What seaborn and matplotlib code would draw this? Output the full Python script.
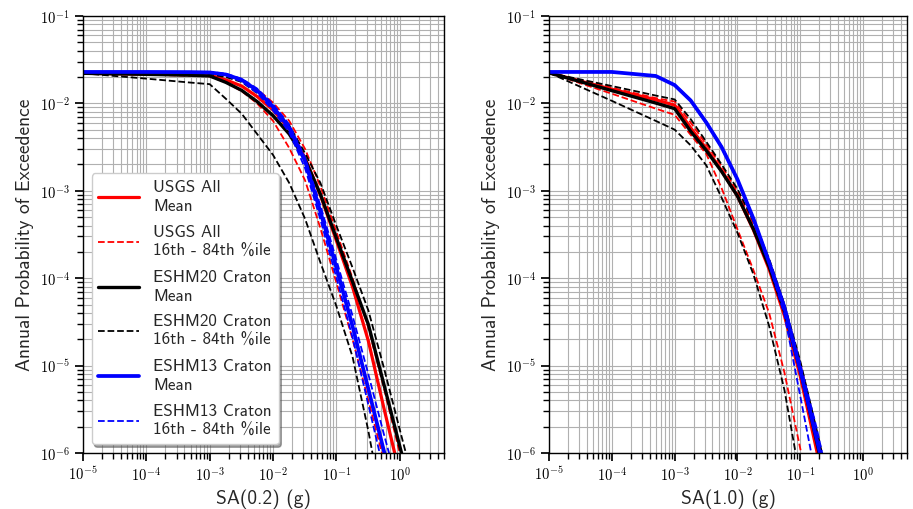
import matplotlib
matplotlib.use("Agg")
import matplotlib.pyplot as plt
import matplotlib.ticker as mticker
import numpy as np
import pandas as pd
import seaborn as sns

# Spectral acceleration levels (g)
sa = [1e-5, 1e-4, 5e-4, 1e-3, 1.8e-3, 3.2e-3, 5.6e-3, 1e-2, 1.8e-2, 3.2e-2,
      5.6e-2, 0.1, 0.18, 0.32, 0.56, 1.0, 1.8]

# ---- SA(0.2) annual probabilities of exceedence ----
usgs_mean_02 = [2.21e-2, 2.16e-2, 2.13e-2, 2.11e-2, 1.86e-2, 1.58e-2, 1.20e-2, 8.41e-3, 5.13e-3,
                2.37e-3, 8.91e-4, 2.69e-4, 7.94e-5, 1.91e-5, 3.31e-6, 5.75e-7, 1.0e-7]
usgs_p16_02 = [2.21e-2, 2.13e-2, 2.07e-2, 2.04e-2, 1.74e-2, 1.38e-2, 1.0e-2, 6.31e-3, 3.09e-3,
               1.32e-3, 3.72e-4, 8.91e-5, 2.0e-5, 3.98e-6, 8.32e-7, 1.58e-7, 3.16e-8]
usgs_p84_02 = [2.21e-2, 2.21e-2, 2.19e-2, 2.16e-2, 2.04e-2, 1.82e-2, 1.45e-2, 1.02e-2, 6.31e-3,
               3.02e-3, 1.12e-3, 3.39e-4, 1.0e-4, 2.69e-5, 5.62e-6, 1.0e-6, 1.78e-7]
eshm20_mean_02 = [2.21e-2, 2.15e-2, 2.10e-2, 2.06e-2, 1.74e-2, 1.41e-2, 1.05e-2, 7.24e-3, 4.47e-3,
                  2.29e-3, 9.12e-4, 2.88e-4, 9.12e-5, 2.95e-5, 6.17e-6, 1.20e-6, 2.34e-7]
eshm20_p16_02 = [2.21e-2, 1.92e-2, 1.73e-2, 1.66e-2, 1.13e-2, 7.62e-3, 4.47e-3, 2.57e-3, 1.23e-3,
                 4.79e-4, 1.51e-4, 4.79e-5, 1.26e-5, 1.78e-6, 2.0e-7, 2.0e-8, 2.0e-9]
eshm20_p84_02 = [2.21e-2, 2.21e-2, 2.19e-2, 2.16e-2, 2.0e-2, 1.76e-2, 1.32e-2, 9.12e-3, 5.62e-3,
                 2.69e-3, 1.23e-3, 3.98e-4, 1.32e-4, 4.27e-5, 9.55e-6, 1.86e-6, 3.63e-7]
eshm13_mean_02 = [2.29e-2, 2.29e-2, 2.28e-2, 2.26e-2, 2.14e-2, 1.86e-2, 1.41e-2, 9.12e-3, 5.25e-3,
                  2.19e-3, 5.75e-4, 1.32e-4, 2.82e-5, 5.37e-6, 1.07e-6, 2.14e-7, 3.98e-8]
eshm13_p16_02 = [2.29e-2, 2.29e-2, 2.26e-2, 2.24e-2, 2.09e-2, 1.78e-2, 1.32e-2, 8.32e-3, 4.68e-3,
                 1.82e-3, 4.68e-4, 1.02e-4, 2.09e-5, 3.55e-6, 6.31e-7, 1.0e-7, 1.58e-8]
eshm13_p84_02 = [2.29e-2, 2.29e-2, 2.29e-2, 2.29e-2, 2.19e-2, 1.91e-2, 1.48e-2, 9.77e-3, 5.75e-3,
                 2.40e-3, 6.76e-4, 1.62e-4, 3.72e-5, 7.94e-6, 1.66e-6, 3.55e-7, 7.94e-8]

# ---- SA(1.0) annual probabilities of exceedence ----
usgs_mean_10 = [2.24e-2, 1.45e-2, 1.10e-2, 9.55e-3, 5.25e-3, 3.02e-3, 1.70e-3, 8.71e-4, 3.55e-4,
                1.26e-4, 3.72e-5, 7.59e-6, 1.12e-6, 1.58e-7, 2.0e-8, 2.5e-9, 3.2e-10]
usgs_p16_10 = [2.24e-2, 1.29e-2, 8.71e-3, 7.41e-3, 4.37e-3, 2.63e-3, 1.07e-3, 3.63e-4, 1.23e-4,
               3.98e-5, 8.32e-6, 1.12e-6, 1.26e-7, 1.26e-8, 1.26e-9, 1.26e-10, 1.26e-11]
usgs_p84_10 = [2.24e-2, 1.51e-2, 1.15e-2, 1.05e-2, 6.03e-3, 3.39e-3, 1.91e-3, 9.77e-4, 4.17e-4,
               1.55e-4, 4.79e-5, 1.07e-5, 1.82e-6, 2.82e-7, 4.0e-8, 6.3e-9, 1.0e-9]
eshm20_mean_10 = [2.24e-2, 1.40e-2, 1.01e-2, 8.71e-3, 4.79e-3, 2.88e-3, 1.66e-3, 8.71e-4, 3.63e-4,
                  1.35e-4, 4.17e-5, 8.91e-6, 1.41e-6, 2.0e-7, 2.5e-8, 3.2e-9, 4.0e-10]
eshm20_p16_10 = [2.24e-2, 1.07e-2, 6.31e-3, 5.01e-3, 3.31e-3, 1.95e-3, 8.32e-4, 3.31e-4, 1.10e-4,
                 2.82e-5, 5.25e-6, 5.01e-7, 5.0e-8, 5.0e-9, 5.0e-10, 5.0e-11, 5.0e-12]
eshm20_p84_10 = [2.24e-2, 1.58e-2, 1.23e-2, 1.11e-2, 6.61e-3, 3.63e-3, 2.0e-3, 1.05e-3, 4.47e-4,
                 1.66e-4, 5.01e-5, 1.12e-5, 1.91e-6, 3.16e-7, 5.0e-8, 7.9e-9, 1.26e-9]
eshm13_mean_10 = [2.29e-2, 2.29e-2, 2.06e-2, 1.62e-2, 1.08e-2, 6.03e-3, 3.16e-3, 1.35e-3, 4.79e-4,
                  1.51e-4, 4.57e-5, 8.91e-6, 1.51e-6, 2.51e-7, 4.0e-8, 6.3e-9, 1.0e-9]
eshm13_p16_10 = [2.29e-2, 2.29e-2, 2.06e-2, 1.62e-2, 1.07e-2, 5.89e-3, 3.09e-3, 1.32e-3, 4.57e-4,
                 1.45e-4, 3.80e-5, 4.47e-6, 5.01e-7, 6.0e-8, 7.0e-9, 8.0e-10, 9.0e-11]
eshm13_p84_10 = [2.29e-2, 2.29e-2, 2.07e-2, 1.64e-2, 1.10e-2, 6.17e-3, 3.24e-3, 1.38e-3, 4.90e-4,
                 1.58e-4, 5.01e-5, 1.05e-5, 2.0e-6, 3.16e-7, 5.0e-8, 8.0e-9, 1.2e-9]

models = ["USGS All", "ESHM20 Craton", "ESHM13 Craton"]
model_colors = {"USGS All": "#ff0000", "ESHM20 Craton": "#000000", "ESHM13 Craton": "#0000ff"}
mean_widths = {"USGS All": 2.3, "ESHM20 Craton": 2.4, "ESHM13 Craton": 2.7}

panels = {
    "SA(0.2) (g)": {
        "USGS All": (usgs_mean_02, usgs_p16_02, usgs_p84_02),
        "ESHM20 Craton": (eshm20_mean_02, eshm20_p16_02, eshm20_p84_02),
        "ESHM13 Craton": (eshm13_mean_02, eshm13_p16_02, eshm13_p84_02),
    },
    "SA(1.0) (g)": {
        "USGS All": (usgs_mean_10, usgs_p16_10, usgs_p84_10),
        "ESHM20 Craton": (eshm20_mean_10, eshm20_p16_10, eshm20_p84_10),
        "ESHM13 Craton": (eshm13_mean_10, eshm13_p16_10, eshm13_p84_10),
    },
}

rows = []
for panel, data in panels.items():
    for model, (mean, p16, p84) in data.items():
        for stat, vals in (("mean", mean), ("p16", p16), ("p84", p84)):
            for x, y in zip(sa, vals):
                rows.append({"panel": panel, "model": model, "stat": stat, "sa": x, "poe": y})
df = pd.DataFrame(rows)

sns.set_theme(style="ticks")
plt.rcParams.update({
    "font.family": ["cmss10", "DejaVu Sans"],
    "mathtext.fontset": "cm",
    "axes.edgecolor": "black",
    "axes.linewidth": 1.0,
    "xtick.color": "black",
    "ytick.color": "black",
    "xtick.labelsize": 10.5,
    "ytick.labelsize": 10.5,
})


def pow10(v, pos):
    if v <= 0:
        return ""
    e = np.log10(v)
    if abs(e - round(e)) > 1e-6:
        return ""
    return r"$10^{%d}$" % int(round(e))


fig = plt.figure(figsize=(9.13, 5.09), dpi=100)
W, H = 913, 509
ax1 = fig.add_axes([83 / W, 56 / H, 361 / W, 437 / H])
ax2 = fig.add_axes([549 / W, 56 / H, 358 / W, 437 / H])

for ax, panel in zip((ax1, ax2), panels.keys()):
    ax.set_xscale("log")
    ax.set_yscale("log")
    ax.grid(True, which="both", color="#b0b0b0", linewidth=0.8)
    ax.set_axisbelow(True)
    sub = df[df["panel"] == panel]
    for model in models:
        c = model_colors[model]
        for stat in ("mean", "p16", "p84"):
            d = sub[(sub["model"] == model) & (sub["stat"] == stat)]
            if stat == "mean":
                lab = f"{model}\nMean"
                ls, lw = "-", mean_widths[model]
            else:
                lab = f"{model}\n16th - 84th %ile" if stat == "p16" else "_nolegend_"
                ls, lw = "--", 1.3
            if ax is ax2:
                lab = "_nolegend_"
            sns.lineplot(data=d, x="sa", y="poe", ax=ax, color=c, linestyle=ls,
                         linewidth=lw, label=lab, legend=False, estimator=None)
    ax.set_xlim(1e-5, 5)
    ax.set_ylim(1e-6, 1e-1)
    ax.xaxis.set_major_locator(mticker.LogLocator(base=10, numticks=12))
    ax.yaxis.set_major_locator(mticker.LogLocator(base=10, numticks=12))
    ax.xaxis.set_major_formatter(mticker.FuncFormatter(pow10))
    ax.yaxis.set_major_formatter(mticker.FuncFormatter(pow10))
    ax.xaxis.set_minor_formatter(mticker.NullFormatter())
    ax.yaxis.set_minor_formatter(mticker.NullFormatter())
    ax.set_xlabel(panel, fontsize=14)
    ax.set_ylabel("Annual Probability of Exceedence", fontsize=14)

leg = ax1.legend(loc="lower left", fontsize=12.3, handlelength=2.4, shadow=True,
                 fancybox=True, framealpha=1.0, edgecolor="#cccccc", labelspacing=0.62)
for t in leg.get_texts():
    t.set_linespacing(1.34)

fig.savefig("out.png", dpi=100)
